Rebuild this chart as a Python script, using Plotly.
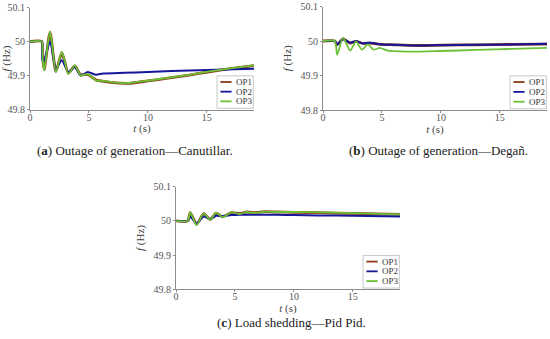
import plotly.graph_objects as go

# ---------------- data ----------------
# Panel (a) Outage of generation - Canutillar
ta13 = [0, 1.0, 1.06, 1.2, 1.7, 2.2, 2.7, 3.25, 3.8, 4.3, 4.9, 5.6, 6.0, 7.0, 8.4, 10, 11.7, 13.5, 15.2, 17, 19]
a_op3 = [50, 50, 49.955, 49.915, 50.03, 49.91, 49.97, 49.905, 49.93, 49.90, 49.905, 49.885, 49.885, 49.88, 49.878, 49.885, 49.893, 49.902, 49.912, 49.921, 49.93]
a_op1 = [50, 50, 49.957, 49.917, 50.027, 49.912, 49.967, 49.907, 49.928, 49.902, 49.903, 49.887, 49.884, 49.879, 49.877, 49.884, 49.892, 49.901, 49.911, 49.920, 49.929]
ta2 = [0, 1.0, 1.03, 1.15, 1.7, 2.2, 2.7, 3.25, 3.8, 4.3, 4.9, 5.6, 6.2, 8, 10, 12, 15, 19]
a_op2 = [50, 50, 49.95, 49.94, 50.0, 49.92, 49.945, 49.91, 49.925, 49.90, 49.91, 49.902, 49.906, 49.908, 49.91, 49.913, 49.916, 49.92]

# Panel (b) Outage of generation - Degañ
tb3 = [0, 1.0, 1.2, 1.7, 2.3, 2.8, 3.3, 3.8, 4.3, 4.8, 5.5, 6.5, 8, 10, 13, 16, 19]
b_op3 = [50, 50, 49.96, 50.01, 49.972, 49.998, 49.975, 49.99, 49.975, 49.98, 49.972, 49.97, 49.969, 49.971, 49.974, 49.977, 49.98]
tb12 = [0, 1.0, 1.2, 1.7, 2.3, 2.8, 3.4, 4.0, 5.0, 6.0, 8, 10, 13, 16, 19]
b_op2 = [50, 50, 49.99, 50.005, 49.995, 49.999, 49.993, 49.995, 49.99, 49.989, 49.987, 49.988, 49.989, 49.99, 49.992]
b_op1 = [50, 50, 49.989, 50.006, 49.994, 49.999, 49.993, 49.994, 49.99, 49.989, 49.987, 49.988, 49.989, 49.99, 49.991]

# Panel (c) Load shedding - Pid Pid
tc = [0, 1.0, 1.2, 1.75, 2.35, 2.9, 3.4, 3.95, 4.7, 5.4, 6.0, 6.7, 7.5, 8.5, 10, 12, 15, 19]
c_op3 = [50, 50, 50.025, 49.988, 50.022, 50.003, 50.024, 50.011, 50.025, 50.02, 50.026, 50.023, 50.027, 50.026, 50.026, 50.025, 50.023, 50.019]
c_op1 = [50, 50, 50.024, 49.99, 50.021, 50.004, 50.023, 50.012, 50.024, 50.021, 50.026, 50.024, 50.027, 50.026, 50.025, 50.024, 50.022, 50.019]
c_op2 = [50, 50, 50.012, 49.993, 50.013, 50.005, 50.015, 50.014, 50.017, 50.018, 50.018, 50.018, 50.018, 50.018, 50.017, 50.016, 50.015, 50.013]

series_names = ["OP1", "OP2", "OP3"]
colors = {"OP1": "#8b3a14", "OP2": "#16169a", "OP3": "#6cc236"}
widths = {"OP1": 2.8, "OP2": 2.0, "OP3": 1.8}

xticks = [0, 5, 10, 15]
yticks = [49.8, 49.9, 50, 50.1]
ytick_text = ["49.8", "49.9", "50", "50.1"]
captions = ["(<b>a</b>) Outage of generation—Canutillar.",
            "(<b>b</b>) Outage of generation—Degañ.",
            "(<b>c</b>) Load shedding—Pid Pid."]

panels = [
    {"OP1": (ta13, a_op1), "OP2": (ta2, a_op2), "OP3": (ta13, a_op3)},
    {"OP1": (tb12, b_op1), "OP2": (tb12, b_op2), "OP3": (tb3, b_op3)},
    {"OP1": (tc, c_op1), "OP2": (tc, c_op2), "OP3": (tc, c_op3)},
]

W, H = 550, 339
# axis pixel boxes: (x0, x1, ytop, ybottom)
boxes = [(30, 254, 7.5, 109.5), (323, 547, 6.5, 110), (176, 400, 186.7, 289.3)]
caption_pos = [(135, 150), (438, 150), (291, 322)]

FONT = "Liberation Serif"
fig = go.Figure()

for i, p in enumerate(panels):
    n = "" if i == 0 else str(i + 1)
    for name in series_names:
        t, v = p[name]
        fig.add_trace(go.Scatter(
            x=t, y=v, mode="lines", name=name, showlegend=False,
            line=dict(color=colors[name], width=widths[name], shape="spline", smoothing=0.6),
            xaxis="x" + n, yaxis="y" + n))
    x0, x1, yt, yb = boxes[i]
    xa = dict(domain=[x0 / W, x1 / W], range=[0, 19], anchor="y" + n, automargin=False,
              tickvals=xticks, showgrid=False, zeroline=False, showline=True,
              linecolor="#8c8c8c", linewidth=1, ticks="outside", ticklen=2,
              ticklabelstandoff=-4,
              tickcolor="#8c8c8c", tickfont=dict(family=FONT, size=10, color="#555"),
              title=dict(text="<i>t</i> (s)", font=dict(family=FONT, size=11, color="#444"), standoff=0))
    ya = dict(domain=[1 - yb / H, 1 - yt / H], range=[49.8, 50.1], anchor="x" + n, automargin=False,
              tickvals=yticks, ticktext=ytick_text, showgrid=False, zeroline=False,
              showline=True, linecolor="#8c8c8c", linewidth=1, ticks="outside", ticklen=2,
              tickcolor="#8c8c8c", tickfont=dict(family=FONT, size=10, color="#555"),
              title=dict(text="<i>f</i> (Hz)", font=dict(family=FONT, size=11, color="#444"), standoff=6))
    fig.layout["xaxis" + n] = xa
    fig.layout["yaxis" + n] = ya

    # legend box
    xr = "x" + n + " domain"
    yr = "y" + n + " domain"
    fig.add_shape(type="rect", xref=xr, yref=yr, x0=0.835, x1=0.997, y0=0.012, y1=0.33,
                  line=dict(color="#c8c8c8", width=1), fillcolor="white", layer="above")
    for k, name in enumerate(series_names):
        yy = 0.27 - k * 0.095
        fig.add_shape(type="line", xref=xr, yref=yr, x0=0.85, x1=0.9, y0=yy, y1=yy,
                      line=dict(color=colors[name], width=1.8), layer="above")
        fig.add_annotation(xref=xr, yref=yr, x=0.91, y=yy, text=name, showarrow=False,
                           xanchor="left", yanchor="middle",
                           font=dict(family=FONT, size=9, color="#333"))
    cx, cy = caption_pos[i]
    fig.add_annotation(xref="paper", yref="paper", x=cx / W, y=1 - cy / H, text=captions[i],
                       showarrow=False, xanchor="center", yanchor="middle",
                       font=dict(family=FONT, size=13, color="#222"))

fig.update_layout(width=W, height=H, autosize=False, margin=dict(l=0, r=0, t=0, b=0),
                  paper_bgcolor="white", plot_bgcolor="white", showlegend=False)
fig.write_html("out.html", config={"displayModeBar": False},
               post_script="document.body.style.margin='0';")
